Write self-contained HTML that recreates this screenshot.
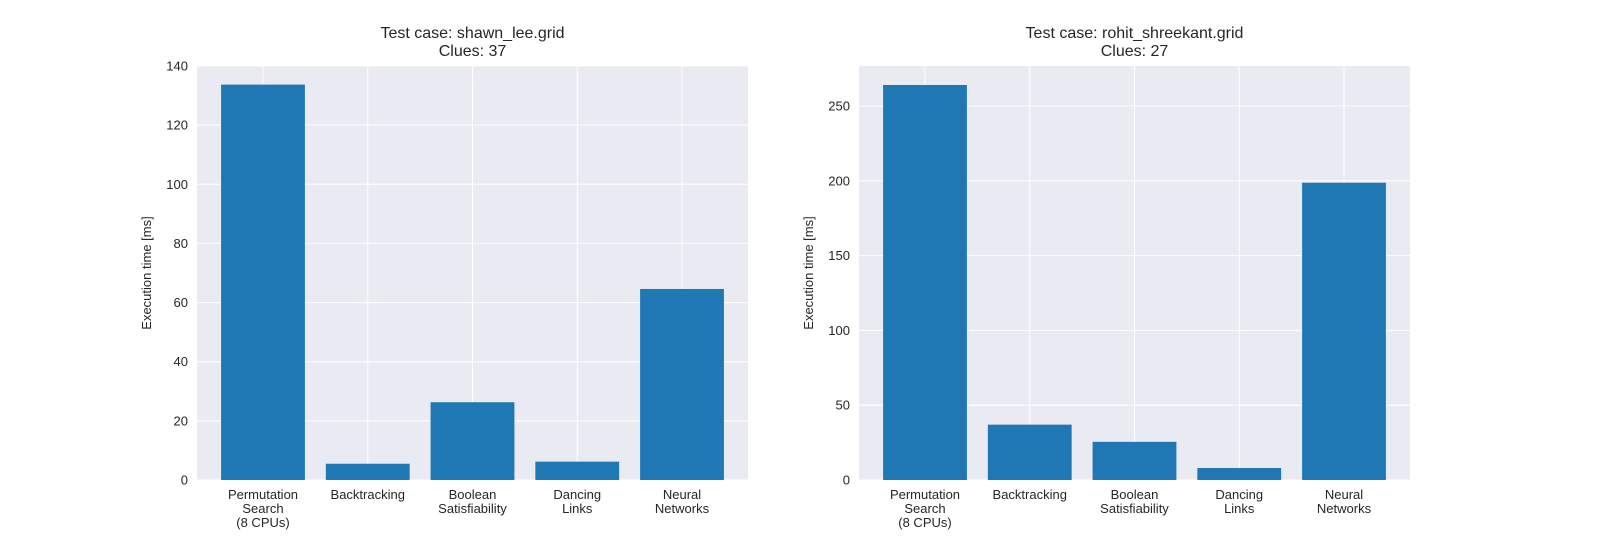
<!DOCTYPE html>
<html><head><meta charset="utf-8"><style>
body{margin:0;background:#fff;width:1600px;height:550px;overflow:hidden;font-family:"Liberation Sans",Arial,sans-serif}
</style></head><body>
<svg id="chart" width="1600" height="550" xmlns="http://www.w3.org/2000/svg" font-family="Liberation Sans, Arial, sans-serif"></svg>
<script>
const categories = [["Permutation","Search","(8 CPUs)"],["Backtracking"],["Boolean","Satisfiability"],["Dancing","Links"],["Neural","Networks"]];
const leftValues = [133.7, 5.5, 26.3, 6.2, 64.6];
const rightValues = [264, 37, 25.5, 8, 198.7];
const leftTicks = [0,20,40,60,80,100,120,140];
const rightTicks = [0,50,100,150,200,250];
const leftTitle = ["Test case: shawn_lee.grid","Clues: 37"];
const rightTitle = ["Test case: rohit_shreekant.grid","Clues: 27"];

const svg = document.getElementById('chart');
const NS = "http://www.w3.org/2000/svg";
function mk(tag, attrs, parent){const e=document.createElementNS(NS,tag);for(const k in attrs)e.setAttribute(k,attrs[k]);(parent||svg).appendChild(e);return e;}

function panel(x0, x1, yTop, yBot, ymax, values, ticks, title, name){
  const g = mk('g',{});
  
  
  const bg = mk('rect',{x:x0,y:yTop,width:x1-x0,height:yBot-yTop,fill:'#eaeaf2'},g);
  
  
  const xs = i => x0 + (i + 0.63) / 5.26 * (x1 - x0);
  const ys = v => yBot - v / ymax * (yBot - yTop);
  const bw = 0.8 / 5.26 * (x1 - x0);
  ticks.forEach(t => {
    const y = ys(t);
    mk('line',{x1:x0,x2:x1,y1:y,y2:y,stroke:'#fff','stroke-width':1},g);
    const tl = mk('text',{x:x0-9,y:y+4.5,'text-anchor':'end','font-size':13,fill:'#262626'},g);
    tl.textContent = t;
    
    
  });
  categories.forEach((c,i) => {
    const x = xs(i);
    mk('line',{x1:x,x2:x,y1:yTop,y2:yBot,stroke:'#fff','stroke-width':1},g);
  });
  values.forEach((v,i) => {
    const r = mk('rect',{x:xs(i)-bw/2,y:ys(v),width:bw,height:yBot-ys(v),fill:'#1f77b4'},g);
    
    
  });
  categories.forEach((c,i) => {
    c.forEach((line,j) => {
      const t = mk('text',{x:xs(i),y:yBot+19+j*14,'text-anchor':'middle','font-size':13,fill:'#262626'},g);
      t.textContent = line;
      
      
    });
  });
  const yl = mk('text',{transform:`translate(${x0-46},${(yTop+yBot)/2}) rotate(-90)`,'text-anchor':'middle','font-size':13,fill:'#262626'},g);
  yl.textContent = 'Execution time [ms]';
  
  
  title.forEach((line,j) => {
    const t = mk('text',{x:(x0+x1)/2,y:yTop-28+j*18,'text-anchor':'middle','font-size':16,fill:'#262626'},g);
    t.textContent = line;
    
    
  });
}
panel(197, 748, 66, 480, 140, leftValues, leftTicks, leftTitle, 'left-chart');
panel(859, 1410, 66, 480, 276.7, rightValues, rightTicks, rightTitle, 'right-chart');
</script>
</body></html>
